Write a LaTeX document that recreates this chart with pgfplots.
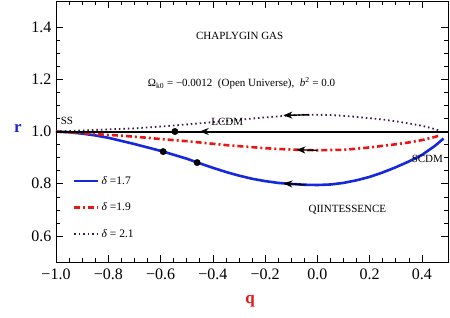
\documentclass[border=0pt]{standalone}
\usepackage{pgfplots}
\pgfplotsset{compat=1.18}
\usepackage{fontspec}
\setmainfont{Liberation Serif}
\usetikzlibrary{arrows.meta}
\definecolor{cblue}{RGB}{20,40,220}
\definecolor{cred}{RGB}{235,20,20}
\definecolor{cpurp}{RGB}{60,25,70}
\begin{document}
\begin{tikzpicture}
\begin{axis}[
  scale only axis, width=392pt, height=261pt,
  xmin=-1, xmax=0.5, ymin=0.5, ymax=1.5,
  xtick={-1,-0.8,-0.6,-0.4,-0.2,0,0.2,0.4},
  xticklabels={−1.0,−0.8,−0.6,−0.4,−0.2,0.0,0.2,0.4},
  ytick={0.6,0.8,1.0,1.2,1.4},
  yticklabels={0.6,0.8,1.0,1.2,1.4},
  minor tick num=3,
  tick align=inside,
  major tick length=7pt, minor tick length=4pt,
  tick style={black, line width=0.5pt},
  axis line style={line width=0.8pt},
  ticklabel style={font=\fontsize{16}{18}\selectfont},
  xticklabel style={yshift=-3pt},
  yticklabel style={xshift=-1pt},
  xlabel={\textbf{q}}, ylabel={\textbf{r}},
  xlabel style={text=cred, font=\fontsize{17}{18}\selectfont, at={(axis description cs:0.495,-0.15)}, anchor=center},
  ylabel style={text=cblue, font=\fontsize{17}{18}\selectfont, rotate=-90, at={(axis description cs:-0.097,0.51)}, anchor=center},
  legend style={at={(rel axis cs:0.035,0.345)}, anchor=north west, draw=none, fill=none,
    font=\fontsize{11.5}{13}\selectfont, row sep=13pt},
  legend image code/.code={\draw[#1] (0pt,0pt) -- (24pt,0pt);},
  legend cell align=left,
  clip=true,
]
\addplot[cblue, line width=2.6pt] coordinates {
(-1,1.0) (-0.95,0.997) (-0.9,0.992) (-0.85,0.985) (-0.8,0.976) (-0.75,0.964) (-0.7,0.952)
(-0.65,0.939) (-0.6,0.926) (-0.55,0.911) (-0.5,0.896) (-0.45,0.878) (-0.4,0.861) (-0.35,0.845)
(-0.3,0.831) (-0.25,0.819) (-0.2,0.81) (-0.15,0.803) (-0.1,0.799) (-0.05,0.796) (0,0.795)
(0.05,0.797) (0.1,0.803) (0.15,0.813) (0.2,0.826) (0.25,0.843) (0.3,0.863) (0.35,0.885)
(0.4,0.91) (0.45,0.945) (0.483,0.973)};
\addlegendentry{\textit{δ} =1.7}
\addplot[cred, line width=2.6pt, dash pattern=on 6pt off 3pt on 2pt off 3pt] coordinates {
(-1,1.0) (-0.95,0.997) (-0.9,0.994) (-0.85,0.99) (-0.8,0.987) (-0.75,0.984) (-0.7,0.98)
(-0.65,0.976) (-0.6,0.971) (-0.55,0.967) (-0.5,0.963) (-0.45,0.958) (-0.4,0.953) (-0.35,0.948)
(-0.3,0.944) (-0.25,0.94) (-0.2,0.936) (-0.15,0.933) (-0.1,0.931) (-0.05,0.929) (0,0.928)
(0.05,0.929) (0.1,0.93) (0.15,0.934) (0.2,0.939) (0.25,0.945) (0.3,0.951) (0.35,0.958)
(0.4,0.967) (0.45,0.979) (0.47,0.986)};
\addlegendentry{\textit{δ} =1.9}
\addplot[cpurp, line width=1.8pt, dash pattern=on 1.5pt off 3pt] coordinates {
(-1,1.0) (-0.9,1.004) (-0.8,1.008) (-0.7,1.012) (-0.6,1.019) (-0.5,1.027) (-0.4,1.036)
(-0.3,1.045) (-0.2,1.054) (-0.15,1.058) (-0.1,1.062) (-0.05,1.064) (0,1.064) (0.05,1.063)
(0.1,1.06) (0.15,1.056) (0.2,1.051) (0.25,1.046) (0.3,1.039) (0.35,1.031) (0.4,1.022)
(0.44,1.012) (0.47,1.003)};
\addlegendentry{\textit{δ} = 2.1}
\addplot[black, line width=2pt, forget plot] coordinates {(-1,1.0) (0.5,1.0)};
% arrows
\addplot[black, line width=1.4pt, -{Stealth[length=9pt,width=7pt]}, forget plot] coordinates {(-0.38,1.0) (-0.45,1.0)};
\addplot[black, line width=1.4pt, -{Stealth[length=9pt,width=7pt]}, forget plot] coordinates {(-0.03,1.064) (-0.13,1.062)};
\addplot[black, line width=1.4pt, -{Stealth[length=9pt,width=7pt]}, forget plot] coordinates {(0.0,0.928) (-0.08,0.930)};
\addplot[black, line width=1.4pt, -{Stealth[length=9pt,width=7pt]}, forget plot] coordinates {(-0.045,0.796) (-0.13,0.801)};
% dots
\addplot[only marks, mark=*, mark size=3.2pt, black, forget plot] coordinates {(-0.545,1.0) (-0.59,0.923) (-0.46,0.881)};
% annotations
\node[font=\fontsize{11}{13}\selectfont] at (axis cs:-0.297,1.365) {CHAPLYGIN GAS};
\node[font=\fontsize{11}{13}\selectfont] at (axis cs:-0.29,1.185) {Ω\textsubscript{k0} = −0.0012 \ (Open Universe), \ \textit{b}\textsuperscript{2} = 0.0};
\node[font=\fontsize{11}{13}\selectfont] at (axis cs:-0.958,1.042) {SS};
\node[font=\fontsize{11}{13}\selectfont] at (axis cs:-0.345,1.035) {LCDM};
\node[font=\fontsize{11}{13}\selectfont] at (axis cs:0.421,0.896) {SCDM};
\node[font=\fontsize{11}{13}\selectfont] at (axis cs:0.115,0.70) {QIINTESSENCE};
\end{axis}
\pgfresetboundingbox
\path[use as bounding box] ([shift={(-56pt,-55pt)}]current axis.south west) rectangle ([shift={(2pt,1pt)}]current axis.north east);
\end{tikzpicture}
\end{document}
